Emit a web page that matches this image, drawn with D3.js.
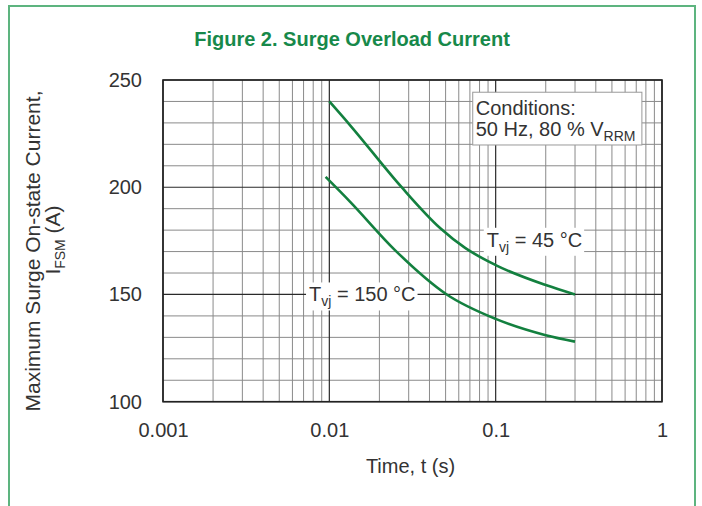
<!DOCTYPE html>
<html>
<head>
<meta charset="utf-8">
<script src="https://cdn.jsdelivr.net/npm/d3@7"></script>
<style>
body { margin: 0; background: #fff; }
text { font-family: "Liberation Sans", Arial, Helvetica, sans-serif; }
</style>
</head>
<body>
<script>
// values
var timeTicks = [0.001, 0.01, 0.1, 1];
var timeLabels = ["0.001", "0.01", "0.1", "1"];
var currentTicks = [100, 150, 200, 250];

var t45 = [0.01, 0.0133, 0.0272, 0.0463, 0.0655, 0.1, 0.2, 0.3];
var i45 = [240, 229, 200, 181, 171.7, 163.7, 154.4, 150];

var t150 = [0.0095, 0.0133, 0.0248, 0.0508, 0.1, 0.2, 0.3];
var i150 = [204.8, 193.3, 170.7, 150, 138.6, 131, 128];

var W = 702, H = 506;
var plotLeft = 163, plotRight = 662, plotTop = 80, plotBottom = 401.7;

var svg = d3.select("body").append("svg")
    .attr("width", W)
    .attr("height", H);

// green frame round the figure
svg.append("rect")
    .attr("x", 9).attr("y", 6)
    .attr("width", 686).attr("height", 600)
    .attr("fill", "none")
    .attr("stroke", "#5db47f")
    .attr("stroke-width", 2);

svg.append("text")
    .attr("x", 352).attr("y", 46)
    .attr("text-anchor", "middle")
    .attr("font-size", 20)
    .attr("font-weight", "bold")
    .attr("fill", "#17894a")
    .text("Figure 2. Surge Overload Current");

var x = d3.scaleLog().domain([0.001, 1]).range([plotLeft, plotRight]);
var y = d3.scaleLinear().domain([100, 250]).range([plotBottom, plotTop]);

var grid = svg.append("g");

// vertical grid: 2..9 in each decade
var minorX = [];
for (var d = 0.001; d < 0.9; d *= 10) {
    for (var k = 2; k <= 9; k++) minorX.push(+(d * k).toPrecision(3));
}
grid.selectAll("line.vx").data(minorX).enter().append("line")
    .attr("class", "vx")
    .attr("x1", function (v) { return x(v); })
    .attr("x2", function (v) { return x(v); })
    .attr("y1", plotTop).attr("y2", plotBottom)
    .attr("stroke", "#8a8a8a")
    .attr("stroke-width", 1);

var minorY = d3.range(110, 250, 10).filter(function (v) { return v % 50 !== 0; });
grid.selectAll("line.hy").data(minorY).enter().append("line")
    .attr("class", "hy")
    .attr("x1", plotLeft).attr("x2", plotRight)
    .attr("y1", function (v) { return y(v); })
    .attr("y2", function (v) { return y(v); })
    .attr("stroke", "#8a8a8a")
    .attr("stroke-width", 1);

grid.selectAll("line.vmaj").data(timeTicks).enter().append("line")
    .attr("class", "vmaj")
    .attr("x1", function (v) { return x(v); })
    .attr("x2", function (v) { return x(v); })
    .attr("y1", plotTop).attr("y2", plotBottom)
    .attr("stroke", "#2a2a2a")
    .attr("stroke-width", 1.2);

grid.selectAll("line.hmaj").data(currentTicks).enter().append("line")
    .attr("class", "hmaj")
    .attr("x1", plotLeft).attr("x2", plotRight)
    .attr("y1", function (v) { return y(v); })
    .attr("y2", function (v) { return y(v); })
    .attr("stroke", "#2a2a2a")
    .attr("stroke-width", 1.2);

svg.append("rect")
    .attr("x", plotLeft).attr("y", plotTop)
    .attr("width", plotRight - plotLeft).attr("height", plotBottom - plotTop)
    .attr("fill", "none")
    .attr("stroke", "#222")
    .attr("stroke-width", 1.6);

// axes, labels only
var xAxis = svg.append("g")
    .attr("transform", "translate(0," + plotBottom + ")")
    .call(d3.axisBottom(x).tickValues(timeTicks).tickSize(0).tickPadding(21)
        .tickFormat(function (d, i) { return timeLabels[i]; }));
var yAxis = svg.append("g")
    .attr("transform", "translate(" + plotLeft + ",0)")
    .call(d3.axisLeft(y).tickValues(currentTicks).tickSize(0).tickPadding(21));
[xAxis, yAxis].forEach(function (a) {
    a.select(".domain").remove();
    a.selectAll("text")
        .attr("font-family", "'Liberation Sans', Arial, sans-serif")
        .attr("font-size", 20)
        .attr("fill", "#333");
});

svg.append("text")
    .attr("x", (plotLeft + plotRight) / 2 - 2).attr("y", 473)
    .attr("text-anchor", "middle")
    .attr("font-size", 20)
    .attr("fill", "#333")
    .text("Time, t (s)");

svg.append("text")
    .attr("transform", "translate(40,251) rotate(-90)")
    .attr("text-anchor", "middle")
    .attr("font-size", 21)
    .attr("fill", "#333")
    .text("Maximum Surge On-state Current,");
var yl2 = svg.append("text")
    .attr("transform", "translate(60,240) rotate(-90)")
    .attr("text-anchor", "middle")
    .attr("font-size", 21)
    .attr("fill", "#333");
yl2.append("tspan").text("I");
yl2.append("tspan").attr("font-size", 14).attr("dy", 5).text("FSM");
yl2.append("tspan").attr("dy", -5).text(" (A)");

// curves
var line = d3.line()
    .x(function (d) { return x(d[0]); })
    .y(function (d) { return y(d[1]); })
    .curve(d3.curveMonotoneX);

var series = [
    d3.zip(t45, i45),
    d3.zip(t150, i150)
];
svg.selectAll("path.curve").data(series).enter().append("path")
    .attr("class", "curve")
    .attr("d", line)
    .attr("fill", "none")
    .attr("stroke", "#13803f")
    .attr("stroke-width", 2.6);

// labels with white backing
function tvjLabel(tx, iy, temp) {
    var g = svg.append("g");
    var bg = g.append("rect").attr("fill", "#fff");
    var t = g.append("text")
        .attr("x", x(tx)).attr("y", y(iy) + 7)
        .attr("font-size", 20)
        .attr("fill", "#333");
    t.append("tspan").text("T");
    t.append("tspan").attr("font-size", 14).attr("dy", 5).text("vj");
    t.append("tspan").attr("dy", -5).text(" = " + temp + " \u00b0C");
    var b = t.node().getBBox();
    bg.attr("x", b.x - 3).attr("y", b.y - 1)
        .attr("width", b.width + 5).attr("height", b.height + 2);
}
tvjLabel(0.0884, 175.5, 45);
tvjLabel(0.00755, 150, 150);

// conditions box
var cx0 = x(0.0728), cx1 = x(0.757), cy0 = y(244.3), cy1 = y(219.7);
svg.append("rect")
    .attr("x", cx0).attr("y", cy0)
    .attr("width", cx1 - cx0).attr("height", cy1 - cy0)
    .attr("fill", "#fff")
    .attr("stroke", "#999")
    .attr("stroke-width", 1);
svg.append("text")
    .attr("x", cx0 + 3).attr("y", cy0 + 23)
    .attr("font-size", 20).attr("fill", "#333")
    .text("Conditions:");
var c2 = svg.append("text")
    .attr("x", cx0 + 3).attr("y", cy0 + 44)
    .attr("font-size", 20).attr("fill", "#333");
c2.append("tspan").text("50 Hz, 80 % V");
c2.append("tspan").attr("font-size", 14).attr("dy", 5).text("RRM");
</script>
</body>
</html>
